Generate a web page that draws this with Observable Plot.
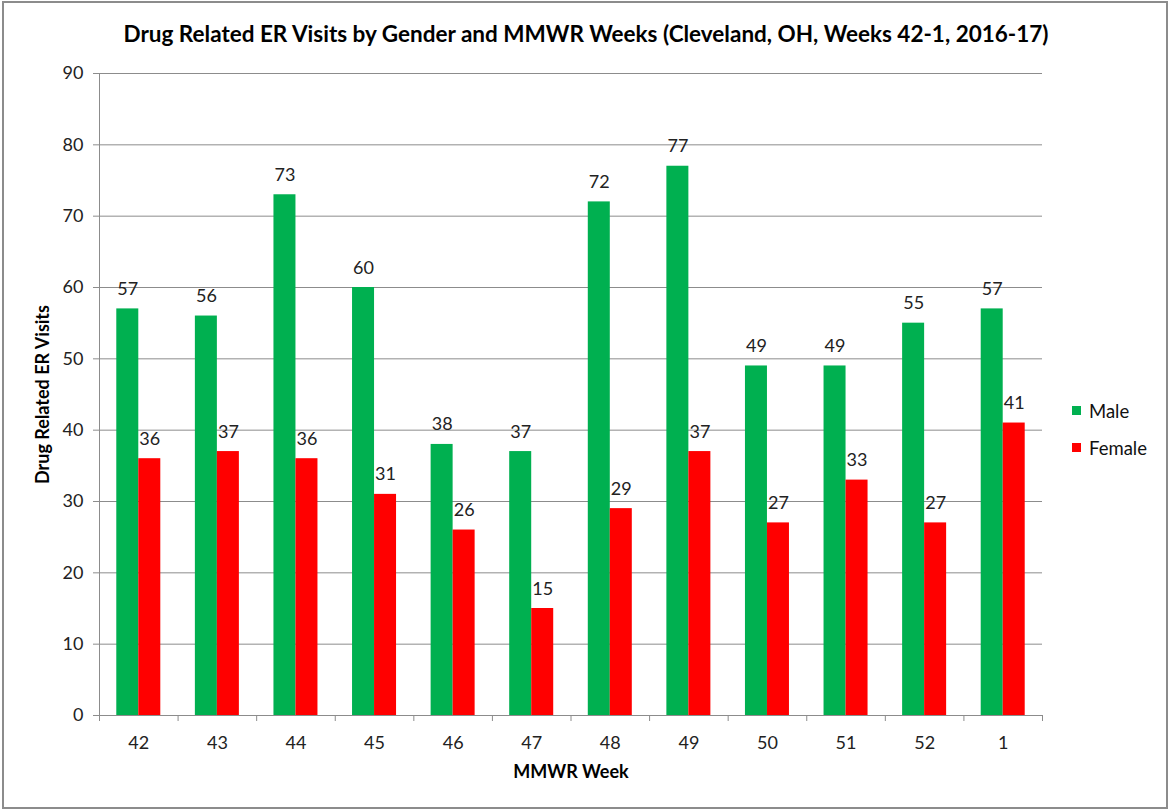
<!DOCTYPE html>
<html>
<head>
<meta charset="utf-8">
<script src="https://cdn.jsdelivr.net/npm/d3@7"></script>
<script src="https://cdn.jsdelivr.net/npm/@observablehq/plot@0.6"></script>
<style>
  html, body { margin: 0; padding: 0; background: #fff; }
  #wrap { position: relative; width: 1168px; height: 809px; font-family: Lato, "Open Sans", sans-serif; }
  #border { position: absolute; left: 2px; top: 1px; width: 1162px; height: 804px; border: 2px solid #8c8c8c; box-sizing: content-box; pointer-events: none; }
  #title { position: absolute; left: 0; width: 1172px; top: 20px; text-align: center; font-weight: bold; font-size: 22.5px; color: #000; }
  #legend { position: absolute; left: 1072px; top: 392px; font-size: 18.5px; color: #111; }
  .li { display: flex; align-items: center; height: 37px; }
  .sw { width: 9px; height: 9px; margin-right: 8px; }
  #chart { position: absolute; left: 0; top: 0; }
</style>
</head>
<body>
<div id="wrap">
  <div id="chart"></div>
  <div id="title">Drug Related ER Visits by Gender and MMWR Weeks (Cleveland, OH, Weeks 42-1, 2016-17)</div>
  <div id="legend"></div>
  <div id="border"></div>
</div>
<script>
const weeks = ["42","43","44","45","46","47","48","49","50","51","52","1"];
const maleValues = [57,56,73,60,38,37,72,77,49,49,55,57];
const femaleValues = [36,37,36,31,26,15,29,37,27,33,27,41];
const seriesNames = ["Male","Female"];
const seriesColors = ["#00B050","#FF0000"];
const yTicks = [0,10,20,30,40,50,60,70,80,90];

const W = 1168, H = 809;
const mL = 99, mR = 126, mT = 73, mB = 94;
const plotW = W - mL - mR, plotH = H - mT - mB;
const step = plotW / weeks.length;
const bw = step * 0.56;
const half = bw / 2;

const male = weeks.map((w, i) => ({week: w, value: maleValues[i]}));
const female = weeks.map((w, i) => ({week: w, value: femaleValues[i]}));
const grid = "#8c8c8c";
const fs = 18;

const chart = Plot.plot({
  width: W, height: H,
  marginLeft: mL, marginRight: mR, marginTop: mT, marginBottom: mB,
  style: {fontFamily: "Lato, 'Open Sans', sans-serif", fontSize: fs + "px", color: "#222", background: "transparent"},
  x: {type: "band", domain: weeks, paddingInner: 0.44, paddingOuter: 0.22, round: false, label: null},
  y: {domain: [0, 90], label: null},
  marks: [
    Plot.gridY(yTicks.slice(1), {stroke: grid, strokeOpacity: 1, strokeWidth: 1}),
    Plot.axisY(yTicks, {tickSize: 6, tickPadding: 10, stroke: grid, fontSize: fs, label: null, fill: "#222"}),
    Plot.axisX({tickSize: 0, tickPadding: 21, fontSize: fs, label: null, fill: "#222"}),
    Plot.ruleY([0], {stroke: grid}),
    Plot.ruleX([weeks[0]], {dx: -step / 2, stroke: grid}),
    Plot.ruleX(weeks, {x: d => d, dx: -step / 2, stroke: grid, insetTop: plotH, insetBottom: -6}),
    Plot.ruleX([weeks[weeks.length - 1]], {dx: step / 2, stroke: grid, insetTop: plotH, insetBottom: -6}),
    Plot.barY(male, {x: "week", y: "value", fill: seriesColors[0], insetRight: half, insetLeft: 0}),
    Plot.barY(female, {x: "week", y: "value", fill: seriesColors[1], insetLeft: half, insetRight: 0}),
    Plot.text(male, {x: "week", y: "value", text: d => String(d.value), dx: -half / 2, dy: -14, lineAnchor: "bottom", fontSize: fs, fill: "#222"}),
    Plot.text(female, {x: "week", y: "value", text: d => String(d.value), dx: half / 2, dy: -14, lineAnchor: "bottom", fontSize: fs, fill: "#222"}),
    Plot.text(["Drug Related ER Visits"], {frameAnchor: "left", textAnchor: "middle", rotate: -90, dx: -56, fontWeight: "bold", fontSize: 18, fill: "#000"}),
    Plot.text(["MMWR Week"], {frameAnchor: "bottom", dy: 62, fontWeight: "bold", fontSize: 18, fill: "#000"})
  ]
});
document.getElementById("chart").appendChild(chart);

const legend = document.getElementById("legend");
seriesNames.forEach((n, i) => {
  const row = document.createElement("div");
  row.className = "li";
  row.innerHTML = `<div class="sw" style="background:${seriesColors[i]}"></div><span>${n}</span>`;
  legend.appendChild(row);
});
</script>
</body>
</html>
